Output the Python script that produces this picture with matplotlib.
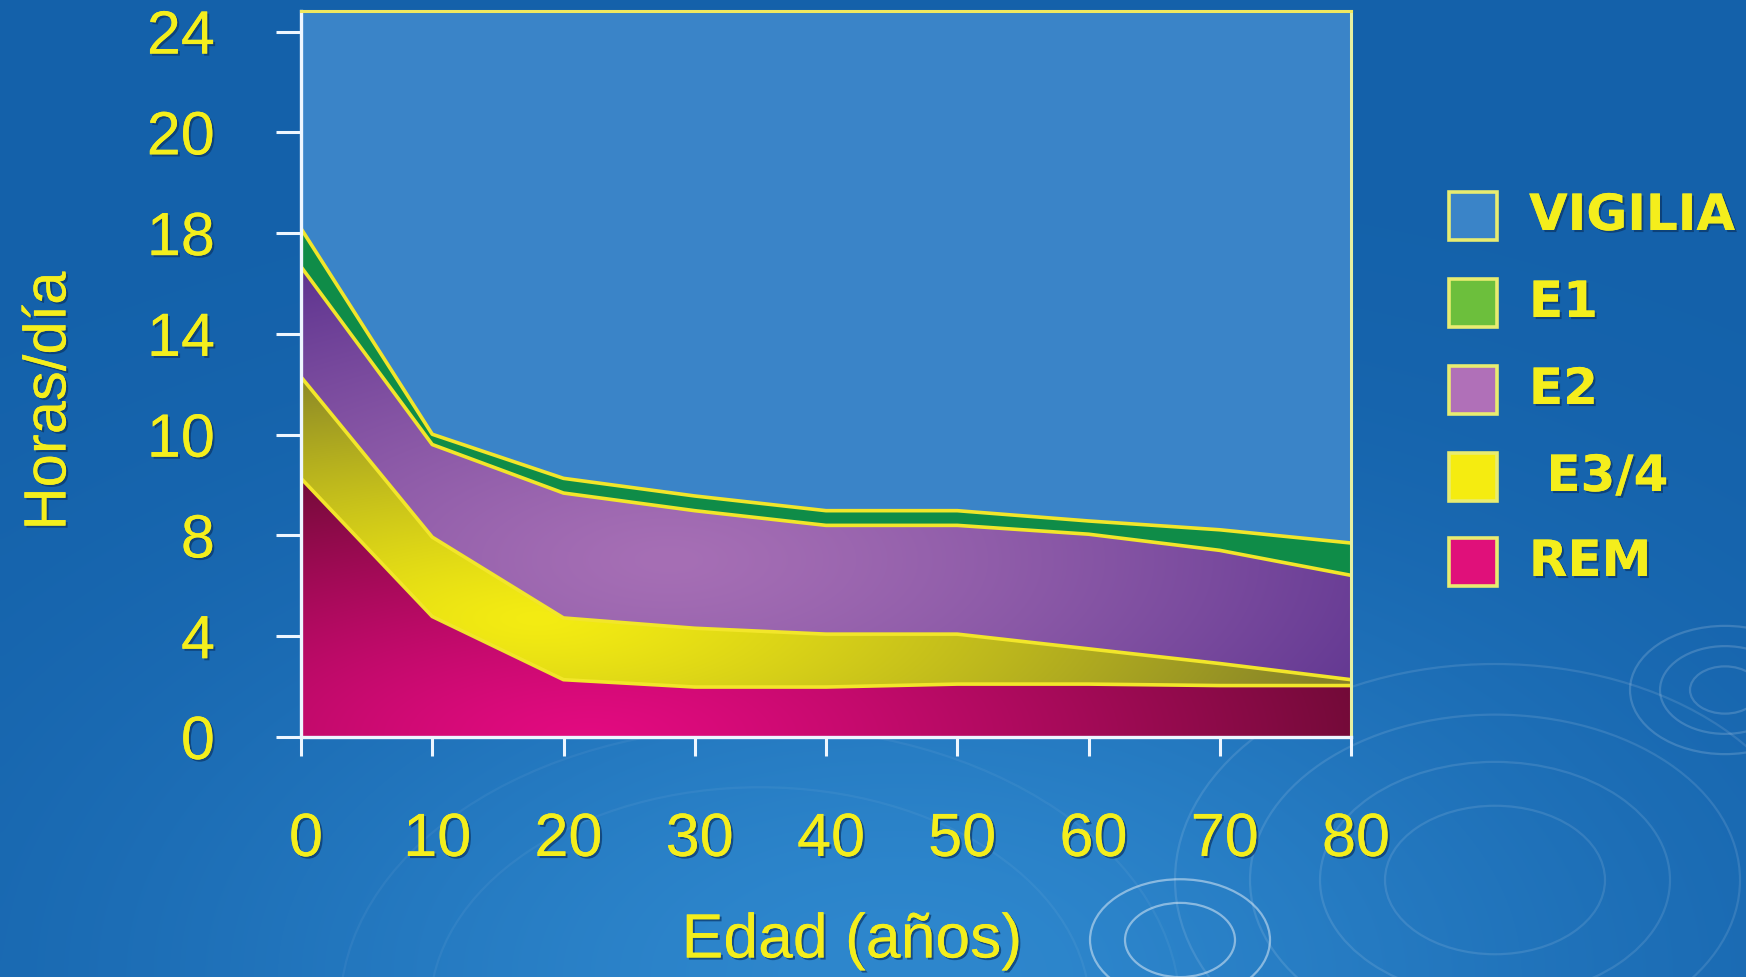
import numpy as np
import matplotlib
matplotlib.use("Agg")
import matplotlib.pyplot as plt
import matplotlib.patheffects as pe
from matplotlib.colors import to_rgb
from matplotlib.patches import Rectangle, Ellipse
from matplotlib.transforms import ScaledTranslation

# horas/dia por fase del sueno segun la edad (apiladas de abajo hacia arriba)
edad = [0, 10, 20, 30, 40, 50, 60, 70, 80]
rem = [8.8, 4.1, 1.95, 1.7, 1.7, 1.8, 1.8, 1.75, 1.75]
e34 = [3.45, 2.7, 2.1, 2.0, 1.8, 1.7, 1.2, 0.75, 0.2]
e2 = [3.75, 3.15, 4.25, 4.0, 3.7, 3.7, 3.9, 3.85, 3.55]
e1 = [1.3, 0.35, 0.5, 0.5, 0.5, 0.5, 0.45, 0.7, 1.1]
vigilia = [6.7, 13.7, 15.2, 15.8, 16.3, 16.3, 16.65, 16.95, 17.4]

y_ticks = [0, 4, 8, 10, 14, 18, 20, 24]
x_ticks = [0, 10, 20, 30, 40, 50, 60, 70, 80]
fases = ["VIGILIA", "E1", "E2", " E3/4", "REM"]

AMARILLO = "#f4ee1c"
SOMBRA = "#0b3566"
C_VIG = "#3a84c8"
C_E1 = "#0f8c48"
LINEA = "#f2e62a"
FUENTE = "Liberation Sans"

W, H = 1746, 977
fig = plt.figure(figsize=(W / 100, H / 100), dpi=100)

# fondo azul con degradado suave y ondas
bg = fig.add_axes([0, 0, 1, 1], zorder=-10)
gx, gy = np.meshgrid(np.linspace(0, W, 240), np.linspace(0, H, 140))
w = np.exp(-((gx - 900) / 750) ** 2 - ((gy - 980) / 420) ** 2)
base, claro = np.array(to_rgb("#1461aa")), np.array(to_rgb("#2e87cd"))
img = base * (1 - w[..., None]) + claro * w[..., None]
bg.imshow(img, extent=[0, W, H, 0], aspect="auto", interpolation="bicubic")
bg.set_xlim(0, W)
bg.set_ylim(H, 0)
bg.axis("off")
for cx, cy, radios, a in [(1495, 880, [110, 175, 245, 320], 0.11),
                          (1180, 940, [55, 90], 0.45),
                          (1725, 690, [35, 65, 95], 0.16),
                          (760, 1010, [330, 420], 0.05)]:
    for r in radios:
        bg.add_patch(Ellipse((cx, cy), 2 * r, 1.35 * r, fill=False,
                             ec="white", lw=1.6, alpha=a))

ax = fig.add_axes([301 / W, (H - 737) / H, 1050 / W, 726 / H])
ax.set_facecolor(C_VIG)
ax.set_xlim(0, 80)
ax.set_ylim(0, 24.7)

x = np.array(edad, dtype=float)
capas = [np.array(v, dtype=float) for v in (rem, e34, e2, e1, vigilia)]
techos = np.cumsum(capas, axis=0)
suelos = np.vstack([np.zeros_like(x), techos[:-1]])

# degradados: (claro, oscuro, centro x, centro y, escala x, escala y)
degradados = [
    ("#e20a80", "#6b0b33", 22, 0, 62, 10),
    ("#f4ec12", "#858228", 18, 4, 62, 9),
    ("#a66fb5", "#5f3590", 28, 6, 60, 11),
]
mx, my = np.meshgrid(np.linspace(0, 80, 400), np.linspace(0, 24.7, 250))
for i, (c1, c2, cx, cy, sx, sy) in enumerate(degradados):
    poly = ax.fill_between(x, suelos[i], techos[i], facecolor="none", lw=0)
    d = np.clip(np.hypot((mx - cx) / sx, (my - cy) / sy), 0, 1)[..., None] ** 1.3
    col = np.array(to_rgb(c1)) * (1 - d) + np.array(to_rgb(c2)) * d
    im = ax.imshow(col, extent=[0, 80, 0, 24.7], origin="lower",
                   aspect="auto", interpolation="bilinear", zorder=1)
    im.set_clip_path(poly.get_paths()[0], transform=ax.transData)

ax.fill_between(x, suelos[3], techos[3], color=C_E1, lw=0, zorder=1)
ax.fill_between(x, suelos[4], techos[4], color=C_VIG, lw=0, zorder=1)

for i in range(4):
    ax.plot(x, techos[i], color=LINEA, lw=2.6, zorder=3)

for s in ("left", "bottom"):
    ax.spines[s].set_color("#eef6ff")
    ax.spines[s].set_linewidth(2.4)
ax.spines["top"].set_color("#f0e860")
ax.spines["right"].set_color("#e6f0a0")
ax.spines["top"].set_linewidth(2.2)
ax.spines["right"].set_linewidth(2.2)
for s in ax.spines.values():
    s.set_zorder(5)

sombra = [pe.withSimplePatchShadow(offset=(1.5, -1.5), shadow_rgbFace=SOMBRA, alpha=0.7),
          pe.Normal()]

ax.set_yticks(np.linspace(0, 24, len(y_ticks)))
ax.set_yticklabels([str(v) for v in y_ticks])
ax.set_xticks(x_ticks)
ax.set_xticklabels([str(v) for v in x_ticks])
ax.tick_params(axis="y", direction="out", length=18, width=2.2, color="#eef6ff",
               labelcolor=AMARILLO, labelsize=44, pad=44)
ax.tick_params(axis="x", direction="out", length=14, width=2.2, color="#eef6ff",
               labelcolor=AMARILLO, labelsize=44, pad=40)
desplaza = ScaledTranslation(5 / 100, 0, fig.dpi_scale_trans)
for t in ax.get_xticklabels():
    t.set_transform(t.get_transform() + desplaza)
for t in ax.get_xticklabels() + ax.get_yticklabels():
    t.set_fontfamily(FUENTE)
    t.set_path_effects(sombra)

fig.text(50 / W, 1 - 401 / H, "Horas/día", rotation=90, color=AMARILLO,
         fontsize=43, family=FUENTE, ha="center", va="center", path_effects=sombra)
fig.text(852 / W, 1 - 941 / H, "Edad (años)", color=AMARILLO,
         fontsize=45, family=FUENTE, ha="center", va="center", path_effects=sombra)

# leyenda a la derecha
leyenda_col = [C_VIG, "#6cbf3c", "#b070b8", "#f5ec10", "#e0107a"]
filas = [216, 303, 390, 477, 562]
for nombre, c, yc in zip(fases, leyenda_col, filas):
    bg.add_patch(Rectangle((1449, yc - 24), 48, 48, facecolor=c,
                           edgecolor="#e8ec70", lw=2.6))
    bg.text(1529, yc, nombre, color=AMARILLO, fontsize=36, fontweight="bold",
            ha="left", va="center", path_effects=sombra)

fig.savefig("out.png", dpi=100)
